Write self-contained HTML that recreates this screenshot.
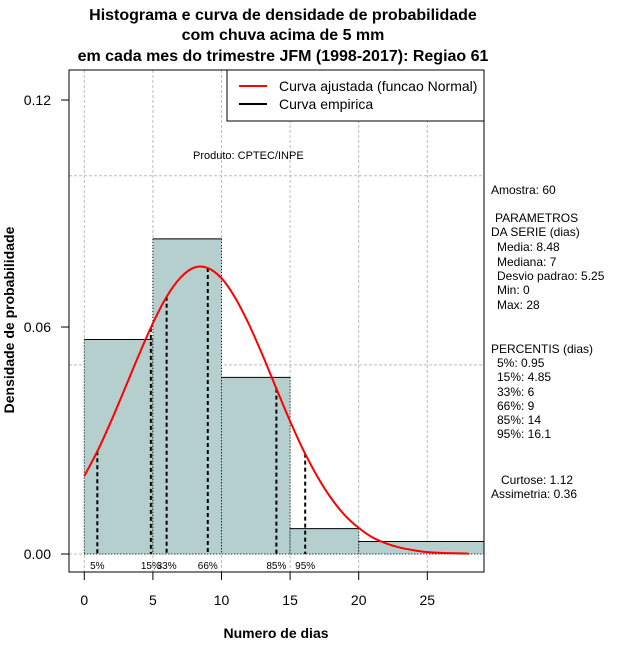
<!DOCTYPE html>
<html><head><meta charset="utf-8"><style>
body{margin:0;background:#fff}
svg text{font-family:"Liberation Sans",sans-serif}
</style></head><body>
<svg width="640" height="660" viewBox="0 0 640 660" xmlns="http://www.w3.org/2000/svg">
<g font-weight="bold" font-size="16" text-anchor="middle">
<text x="283" y="20">Histograma e curva de densidade de probabilidade</text>
<text x="283" y="40">com chuva acima de 5 mm</text>
<text x="283" y="61">em cada mes do trimestre JFM (1998-2017): Regiao 61</text>
</g>
<g id="grid"></g>
<g id="bars"></g>
<g id="pct"></g>
<g id="curve"></g>
<rect x="69" y="70" width="415" height="502" fill="none" stroke="#000"/>
<g id="axes"></g>
<g>
<rect x="227" y="70" width="257" height="51" fill="#fff" stroke="#000"/>
<line x1="239" y1="86" x2="267" y2="86" stroke="#f00" stroke-width="2"/>
<text x="279" y="91" font-size="14">Curva ajustada (funcao Normal)</text>
<line x1="239" y1="104" x2="267" y2="104" stroke="#000" stroke-width="2"/>
<text x="279" y="109" font-size="14">Curva empirica</text>
</g>
<text x="193" y="159" font-size="11">Produto: CPTEC/INPE</text>
<g font-size="12">
<text x="491" y="194">Amostra: 60</text>
<text x="495" y="222">PARAMETROS</text>
<text x="491" y="236">DA SERIE (dias)</text>
<text x="497" y="251">Media: 8.48</text>
<text x="497" y="266">Mediana: 7</text>
<text x="497" y="280">Desvio padrao: 5.25</text>
<text x="497" y="294">Min: 0</text>
<text x="497" y="309">Max: 28</text>
<text x="491" y="353">PERCENTIS (dias)</text>
<text x="497" y="367">5%: 0.95</text>
<text x="497" y="381">15%: 4.85</text>
<text x="497" y="396">33%: 6</text>
<text x="497" y="410">66%: 9</text>
<text x="497" y="424">85%: 14</text>
<text x="497" y="438">95%: 16.1</text>
<text x="501" y="484">Curtose: 1.12</text>
<text x="491" y="498">Assimetria: 0.36</text>
</g>
<text x="276" y="638" font-size="14" font-weight="bold" text-anchor="middle">Numero de dias</text>
<text transform="translate(14,320) rotate(-90)" font-size="14" font-weight="bold" text-anchor="middle">Densidade de probabilidade</text>
</svg>
<script>
const binStarts=[0,5,10,15,20];
const binEnds=[5,10,15,20,30];
const binDensity=[0.0567,0.0833,0.0467,0.0067,0.0033];
const curveX=[0,1,2,3,4,5,6,7,8,9,10,11,12,13,14,15,16,17,18,19,20,21,22,23,24,25,26,27,28];
const curveY=[0.0206,0.0275,0.0355,0.0441,0.0528,0.0610,0.0680,0.0730,0.0757,0.0756,0.0729,0.0677,0.0607,0.0525,0.0437,0.0351,0.0272,0.0204,0.0147,0.0102,0.0069,0.0044,0.0028,0.0017,0.0010,0.0005,0.0003,0.0002,0.0001];
const pctLabels=["5%","15%","33%","66%","85%","95%"];
const pctValues=[0.95,4.85,6,9,14,16.1];
const xTicks=[0,5,10,15,20,25];
const yTicks=[0,0.06,0.12];
const yGrid=[0,0.05,0.10,0.15];

const NS="http://www.w3.org/2000/svg";
const X=v=>84.3+v*13.72;
const Y=v=>554-v*3783;
const PL=69,PR=484,PT=70,PB=572;
function mk(tag,attrs,parent){const e=document.createElementNS(NS,tag);for(const k in attrs)e.setAttribute(k,attrs[k]);parent.appendChild(e);return e;}
const grid=document.getElementById('grid');
xTicks.forEach(t=>{const l=mk('line',{x1:X(t),x2:X(t),y1:PT,y2:PB,stroke:'#bbb','stroke-dasharray':'3,2'},grid);

});
yGrid.forEach(t=>{const l=mk('line',{x1:PL,x2:PR,y1:Y(t),y2:Y(t),stroke:'#bbb','stroke-dasharray':'3,2'},grid);

});
const bars=document.getElementById('bars');
binStarts.forEach((s,i)=>{const x1=X(s),x2=Math.min(X(binEnds[i]),PR),y=Y(binDensity[i]);
const r=mk('rect',{x:x1,y:y,width:x2-x1,height:Y(0)-y,fill:'#b5cfcf'},bars);


mk('line',{x1:x1,x2:x2,y1:y,y2:y,stroke:'#000'},bars);
mk('line',{x1:x1,x2:x1,y1:y,y2:Y(0),stroke:'#000','stroke-dasharray':'1,2'},bars);
mk('line',{x1:x2,x2:x2,y1:y,y2:Y(0),stroke:'#000','stroke-dasharray':'1,2'},bars);});
mk('line',{x1:X(0),x2:PR,y1:Y(0),y2:Y(0),stroke:'#000','stroke-dasharray':'1,2'},bars);
function curveAt(v){for(let i=0;i<curveX.length-1;i++){if(v<=curveX[i+1]){const f=(v-curveX[i])/(curveX[i+1]-curveX[i]);return curveY[i]+f*(curveY[i+1]-curveY[i]);}}return curveY[curveY.length-1];}
const pct=document.getElementById('pct');
pctValues.forEach((v,i)=>{const l=mk('line',{x1:X(v),x2:X(v),y1:Y(curveAt(v)),y2:Y(0),stroke:'#000','stroke-width':2,'stroke-dasharray':'4,3'},pct);


const t=mk('text',{x:X(v),y:569,'font-size':10,'text-anchor':'middle'},pct);t.textContent=pctLabels[i];

});
const cv=document.getElementById('curve');
const P=curveX.map((x,i)=>[X(x),Y(curveY[i])]);
let d='M'+P[0][0]+','+P[0][1];
for(let i=0;i<P.length-1;i++){const p0=P[Math.max(0,i-1)],p1=P[i],p2=P[i+1],p3=P[Math.min(P.length-1,i+2)];
d+='C'+(p1[0]+(p2[0]-p0[0])/6)+','+(p1[1]+(p2[1]-p0[1])/6)+' '+(p2[0]-(p3[0]-p1[0])/6)+','+(p2[1]-(p3[1]-p1[1])/6)+' '+p2[0]+','+p2[1];}
const p=mk('path',{d:d,fill:'none',stroke:'#f00','stroke-width':2},cv);


const ax=document.getElementById('axes');
xTicks.forEach(t=>{mk('line',{x1:X(t),x2:X(t),y1:PB,y2:PB+8,stroke:'#000'},ax);
const tx=mk('text',{x:X(t),y:605,'font-size':14,'text-anchor':'middle'},ax);tx.textContent=t;

});
yTicks.forEach(t=>{mk('line',{x1:PL-8,x2:PL,y1:Y(t),y2:Y(t),stroke:'#000'},ax);
const tx=mk('text',{x:51,y:Y(t)+5,'font-size':14,'text-anchor':'end'},ax);tx.textContent=t.toFixed(2);

});
</script>
</body></html>
